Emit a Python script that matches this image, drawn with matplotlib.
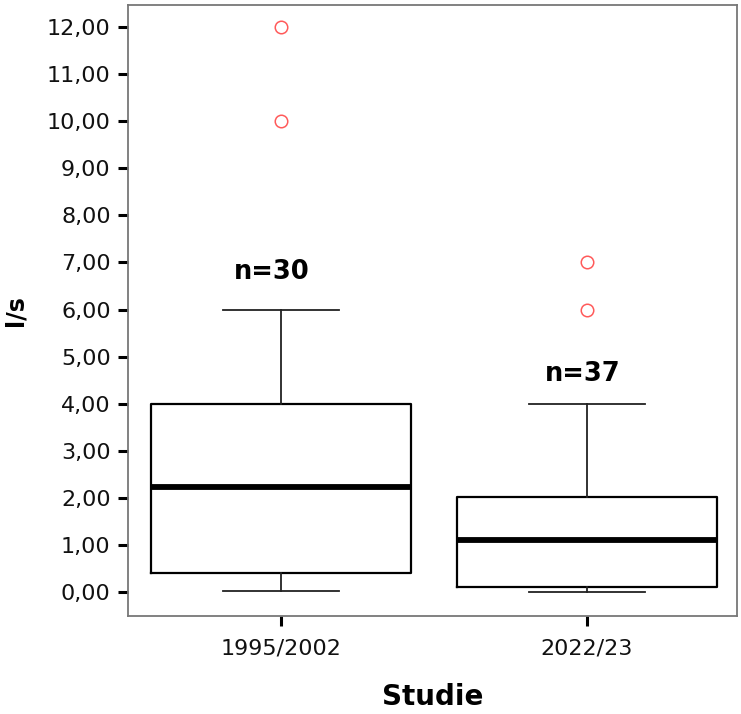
import matplotlib
matplotlib.use("Agg")
import matplotlib.pyplot as plt
from matplotlib.ticker import FuncFormatter

categories = ["1995/2002", "2022/23"]
whislo = [0.03, 0.0]
q1 = [0.40, 0.11]
med = [2.24, 1.10]
q3 = [4.0, 2.01]
whishi = [6.0, 4.0]
outliers = [[10.0, 12.0], [6.0, 7.0]]
n_labels = ["n=30", "n=37"]
n_label_y = [6.80, 4.64]
yticks = list(range(0, 13))

stats = []
for i, c in enumerate(categories):
    stats.append(dict(label=c, whislo=whislo[i], q1=q1[i], med=med[i],
                      q3=q3[i], whishi=whishi[i], fliers=outliers[i]))

FONT = "DejaVu Sans"
fig = plt.figure(figsize=(7.41, 7.14), dpi=100)
ax = fig.add_axes([128/741, 1-616/714, (737-128)/741, (616-5)/714])

ax.bxp(stats, positions=[1, 2], widths=0.85, showfliers=True,
       boxprops=dict(color="black", linewidth=1.6),
       medianprops=dict(color="black", linewidth=4.2, solid_capstyle="butt"),
       whiskerprops=dict(color="#222222", linewidth=1.3),
       capprops=dict(color="#222222", linewidth=1.3),
       capwidths=0.38,
       flierprops=dict(marker="o", markerfacecolor="none",
                       markeredgecolor="#ff5a5a", markersize=9,
                       markeredgewidth=1.1, linestyle="none"))

for i, t in enumerate(n_labels):
    ax.text([0.97, 1.985][i], n_label_y[i], t, ha="center", va="center",
            fontsize=18.5, fontweight="bold", family=FONT)

ax.set_xlim(0.5, 2.49)
ax.set_ylim(-0.51, 12.47)
ax.set_yticks(yticks)
ax.yaxis.set_major_formatter(FuncFormatter(lambda v, p: f"{v:.2f}".replace(".", ",")))
ax.set_xticks([1, 2])
ax.set_xticklabels(categories)

for s in ax.spines.values():
    s.set_color("#777777")
    s.set_linewidth(1.3)

ax.tick_params(axis="both", direction="out", length=7.5, width=2.2,
               color="black", labelsize=16, labelcolor="#111111")
ax.tick_params(axis="y", pad=5)
ax.tick_params(axis="x", pad=9)
for lab in ax.get_xticklabels() + ax.get_yticklabels():
    lab.set_family(FONT)

ax.set_ylabel("l/s", fontsize=17, fontweight="bold", family=FONT, labelpad=14)
ax.set_xlabel("Studie", fontsize=20, fontweight="bold", family=FONT, labelpad=17)

fig.savefig("out.png", dpi=100)
